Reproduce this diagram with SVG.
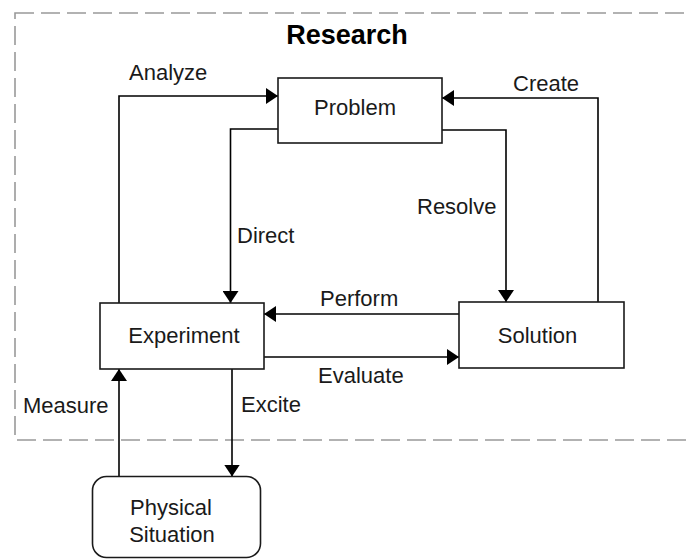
<svg xmlns="http://www.w3.org/2000/svg" width="689" height="559" viewBox="0 0 689 559">
<defs>
<marker id="arr" viewBox="0 0 12 16" refX="12" refY="8" markerWidth="12" markerHeight="16" markerUnits="userSpaceOnUse" orient="auto">
<path d="M0,0 L12,8 L0,16 Z" fill="#000"/>
</marker>
<style>
.node{fill:#fff;stroke:#1a1a1a;stroke-width:1.6}
.t{font-family:"Liberation Sans",Arial,sans-serif;font-size:22px;fill:#1a1a1a}
.c{text-anchor:middle}
.edge{fill:none;stroke:#000;stroke-width:1.6;marker-end:url(#arr)}
</style>
</defs>
<rect width="689" height="559" fill="#fff"/>
<g id="research">
<rect x="15" y="13" width="720" height="427" fill="none" stroke="#999" stroke-width="1.6" stroke-dasharray="19 7"/>
<text x="347" y="44" class="t c" style="font-weight:bold;font-size:27px;fill:#000">Research</text>
</g>
<g id="connectors">
<path class="edge" d="M119,303 V96 H278"/>
<path class="edge" d="M278,129 H230.5 V303"/>
<path class="edge" d="M598,302 V98 H442"/>
<path class="edge" d="M442,130 H506 V302"/>
<path class="edge" d="M459,314 H264"/>
<path class="edge" d="M264,357 H459"/>
<path class="edge" d="M232,369 V476.5"/>
<path class="edge" d="M119,476.5 V369"/>
<text class="t" x="129" y="80">Analyze</text>
<text class="t" x="513" y="91">Create</text>
<text class="t" x="237" y="243">Direct</text>
<text class="t" x="417" y="214">Resolve</text>
<text class="t" x="320" y="306">Perform</text>
<text class="t" x="318" y="383">Evaluate</text>
<text class="t" x="241" y="412">Excite</text>
<text class="t" x="23" y="413">Measure</text>
</g>
<g id="problem">
<rect class="node" x="278" y="78" width="164" height="65"/>
<text class="t c" x="355" y="115">Problem</text>
</g>
<g id="experiment">
<rect class="node" x="100" y="303" width="164" height="66"/>
<text class="t c" x="184" y="343">Experiment</text>
</g>
<g id="solution">
<rect class="node" x="459" y="302" width="165" height="66"/>
<text class="t c" x="537.5" y="343">Solution</text>
</g>
<g id="physical">
<rect class="node" x="92.5" y="476.5" width="168" height="81" rx="14" ry="14"/>
<text class="t c" x="171" y="515">Physical</text>
<text class="t c" x="172" y="542">Situation</text>
</g>
</svg>
